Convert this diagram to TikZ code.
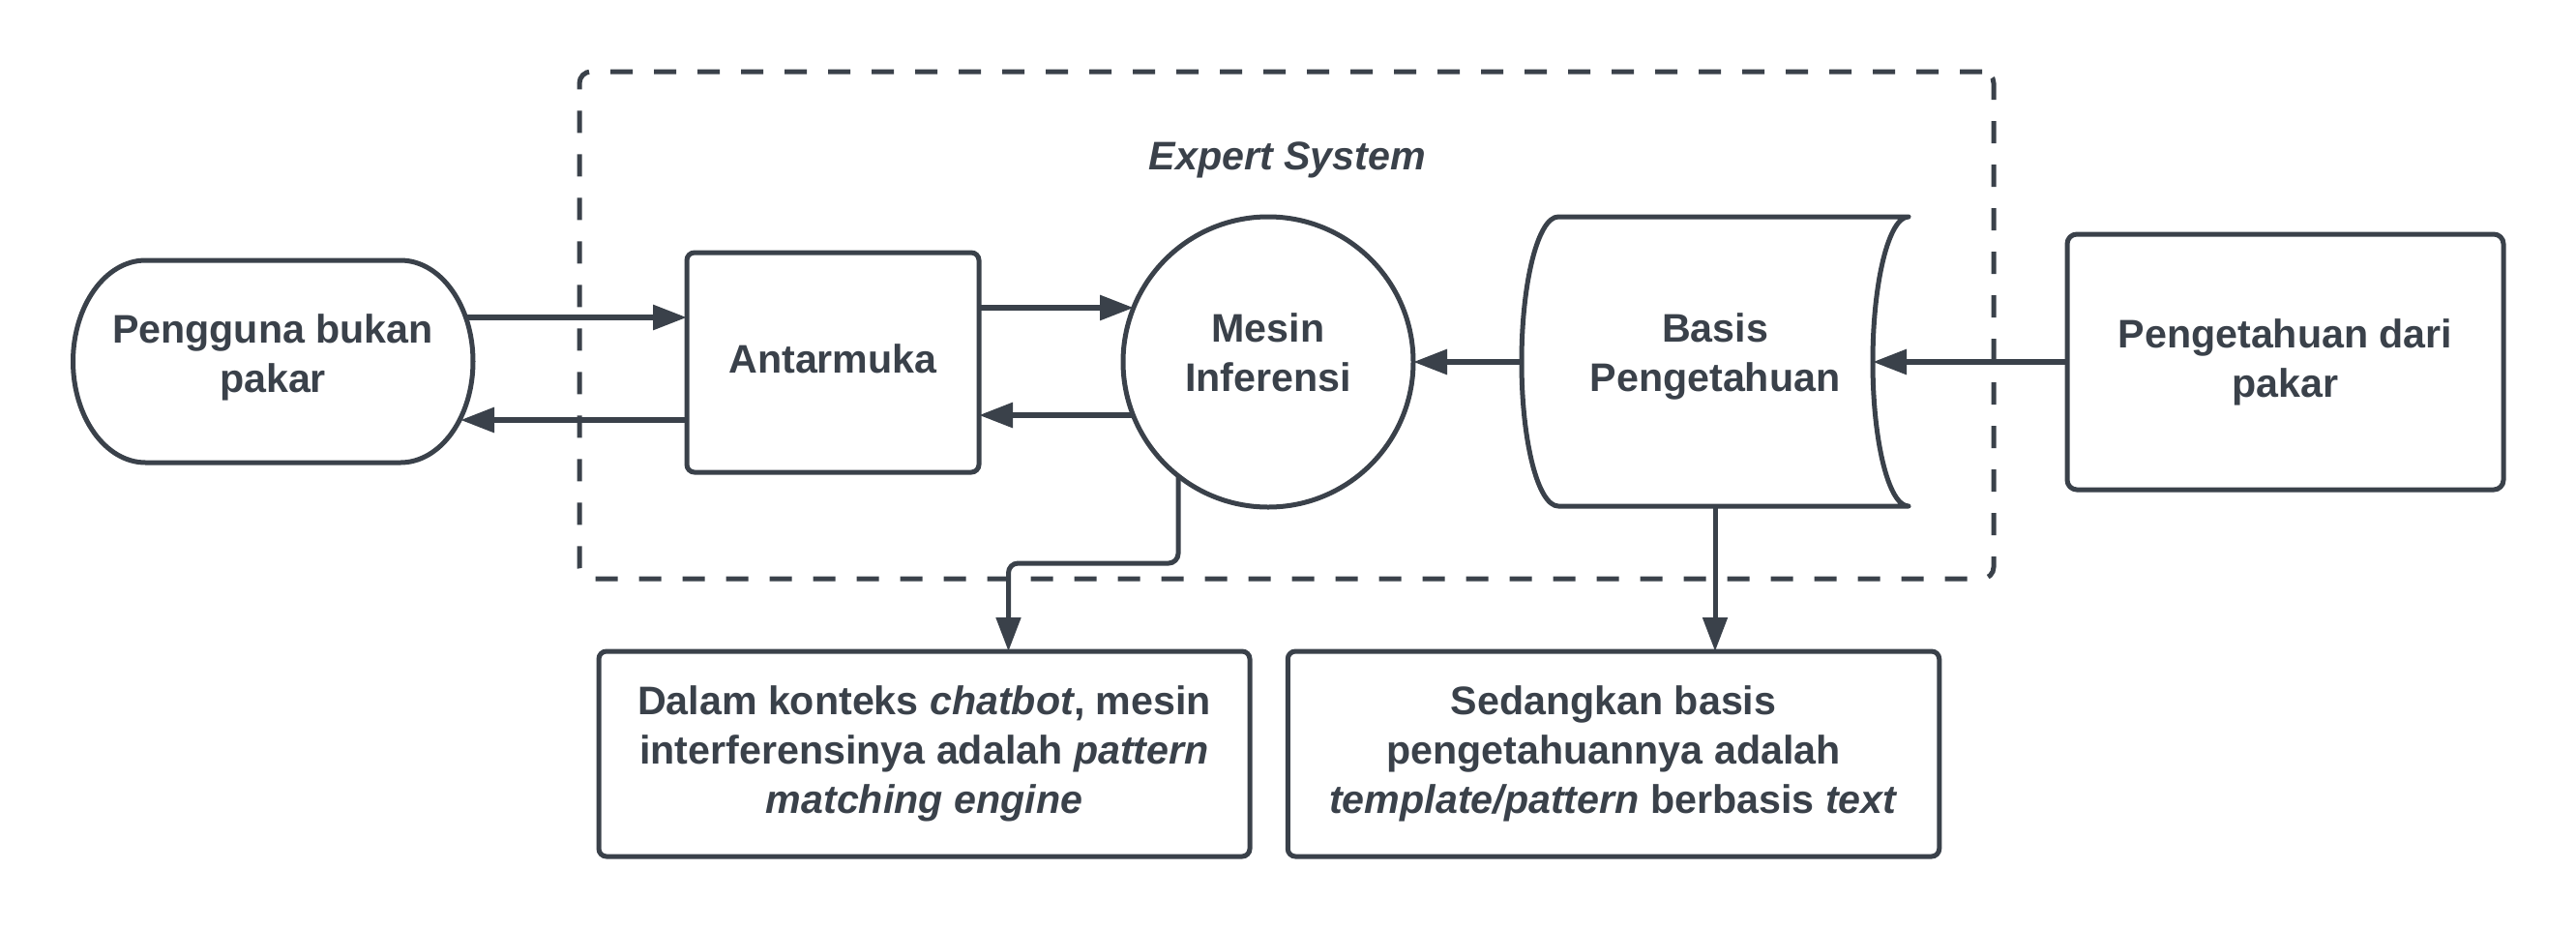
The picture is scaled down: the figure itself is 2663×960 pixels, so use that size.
\documentclass[tikz,border=0pt]{standalone}
\usepackage{fontspec}
\setmainfont{Liberation Sans}
\usetikzlibrary{arrows.meta,calc}
\definecolor{ink}{HTML}{3A414A}
\begin{document}
\begin{tikzpicture}[x=0.5pt,y=-0.5pt,
  every node/.style={font=\bfseries\fontsize{20.6pt}{25.5pt}\selectfont, text=ink, align=center, inner sep=0pt, outer sep=0pt},
  box/.style={draw=ink, line width=2.5pt, rounded corners=4pt, fill=white},
  outline/.style={draw=ink, line width=2.5pt, fill=white, line join=round},
  conn/.style={draw=ink, line width=3pt, -{Triangle[length=17.5pt,width=12.5pt]}},
  thinconn/.style={conn, line width=2.5pt},
  container/.style={draw=ink, line width=2.5pt, dash pattern=on 11.5pt off 11pt, rounded corners=6pt},
]
\useasboundingbox (0,0) rectangle (2663,960);
% container
\node[container, minimum width=731pt, minimum height=262pt] (sys) at (1330,336) {};
\node[font=\bfseries\itshape\fontsize{20.6pt}{25.5pt}\selectfont] (title) at (1331,165) {Expert System};
% user (terminator shape)
\draw[outline] (150.5,269) -- (414,269) .. controls (455.4,269) and (489,315.8) .. (489,373.5)
  .. controls (489,431.2) and (455.4,478) .. (414,478) -- (150.5,478)
  .. controls (109.1,478) and (75.5,431.2) .. (75.5,373.5)
  .. controls (75.5,315.8) and (109.1,269) .. (150.5,269) -- cycle;
\node[minimum width=206.75pt, minimum height=104.5pt, label={[yshift=2.25pt]center:{Pengguna bukan\\pakar}}] (user) at (282,373.5) {};
% interface
\node[box, minimum width=151pt, minimum height=113.5pt, label={[yshift=1.75pt]center:Antarmuka}] (ant) at (861,374.5) {};
% inference engine
\node[draw=ink, line width=2.5pt, fill=white, circle, minimum size=150pt, label={[yshift=5pt]center:{Mesin\\Inferensi}}] (mesin) at (1311,374) {};
% knowledge base (stored data)
\draw[outline] (1611,224) -- (1973,224) .. controls (1952.6,224) and (1936,291.4) .. (1936,374)
  .. controls (1936,456.6) and (1952.6,523) .. (1973,523) -- (1611,523)
  .. controls (1590,523) and (1573,456.6) .. (1573,374)
  .. controls (1573,291.4) and (1590,224) .. (1611,224) -- cycle;
\node[minimum width=200pt, minimum height=149.5pt, label={[yshift=3pt]center:{Basis\\Pengetahuan}}] (basis) at (1773,374) {};
% expert knowledge
\node[box, rounded corners=5pt, minimum width=225.5pt, minimum height=132pt] (pk) at (2362.5,374) {Pengetahuan dari\\pakar};
% notes
\node[box, minimum width=336.5pt, minimum height=106pt] (b1) at (955.5,779) {Dalam konteks \textit{chatbot}, mesin\\interferensinya adalah \textit{pattern}\\\textit{matching engine}};
\node[box, minimum width=336.75pt, minimum height=106pt] (b2) at (1668,779) {Sedangkan basis\\pengetahuannya adalah\\\textit{template/pattern} berbasis \textit{text}};
% connectors
\draw[conn] ($(user.center)+(200,-45.5)$) -- ($(ant.west)+(0,-46.5)$);
\draw[conn] ($(ant.west)+(0,59.5)$) -- ($(user.center)+(194,60.5)$);
\draw[conn] ($(ant.east)+(0,-56.5)$) -- ($(mesin.center)+(-139,-56)$);
\draw[conn] ($(mesin.center)+(-140,55)$) -- ($(ant.east)+(0,54.5)$);
\draw[conn] (basis.west) -- (mesin.east);
\draw[conn] (pk.west) -- ($(basis.east)+(-37,0)$);
\draw[thinconn, rounded corners=5pt] ($(mesin.center)+(-93,118)$) |- ($(b1.north)+(87,-91)$) -- ($(b1.north)+(87,0)$);
\draw[thinconn] (basis.south) -- (basis.south |- b2.north);
\end{tikzpicture}
\end{document}
